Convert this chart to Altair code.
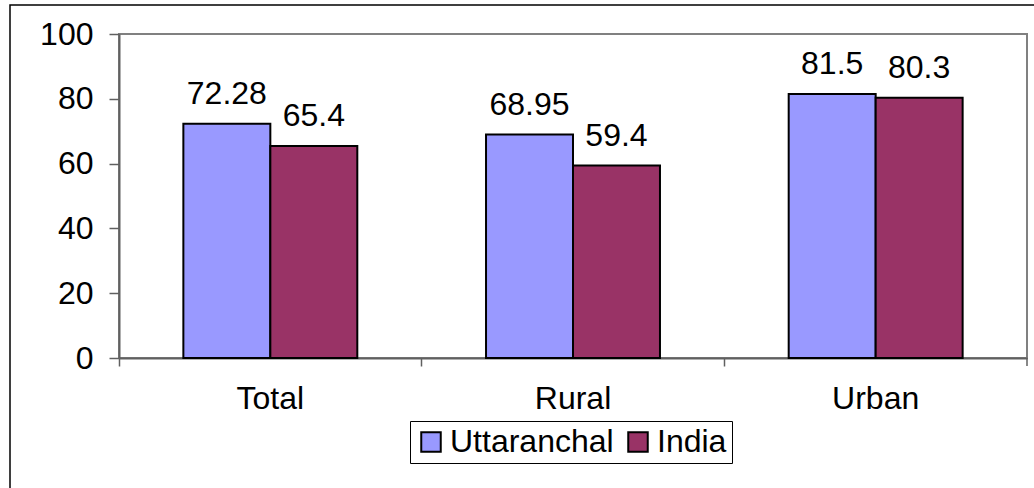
import altair as alt
import pandas as pd

categories = ["Total", "Rural", "Urban"]
series = ["Uttaranchal", "India"]
uttaranchal = [72.28, 68.95, 81.5]
india = [65.4, 59.4, 80.3]
y_ticks = [0, 20, 40, 60, 80, 100]

rows = []
for i, c in enumerate(categories):
    rows.append({"category": c, "series": "Uttaranchal", "value": uttaranchal[i], "label": f"{uttaranchal[i]:g}"})
    rows.append({"category": c, "series": "India", "value": india[i], "label": f"{india[i]:g}"})
df = pd.DataFrame(rows)

FONT = "Liberation Sans"
FS = 32

x_enc = alt.X("category:N", sort=categories,
              scale=alt.Scale(paddingInner=0, paddingOuter=0),
              axis=alt.Axis(title=None, bandPosition=0, labelAngle=0,
                            tickSize=8, labelPadding=17, domainColor="#606060",
                            tickColor="#606060", labelFontSize=FS, labelFont=FONT,
                            labelColor="black", domainWidth=2, tickWidth=1.5))
xoff_enc = alt.XOffset("series:N", sort=series, scale=alt.Scale(paddingOuter=0.74, paddingInner=0))
y_enc = alt.Y("value:Q", scale=alt.Scale(domain=[0, 100]),
              axis=alt.Axis(title=None, values=y_ticks, grid=False, tickSize=10,
                            labelPadding=16, domainColor="#606060", tickColor="#606060",
                            labelFontSize=FS, labelFont=FONT, labelColor="black",
                            domainWidth=2, tickWidth=1.5))
color_enc = alt.Color("series:N", sort=series,
                      scale=alt.Scale(domain=series, range=["#9999FF", "#993366"]),
                      legend=alt.Legend(title=None, orient="none", direction="horizontal",
                                        legendX=291, legendY=387,
                                        strokeColor="black", padding=5,
                                        symbolType="square", symbolSize=380,
                                        symbolStrokeColor="black", symbolStrokeWidth=2,
                                        labelFontSize=FS, labelFont=FONT, labelColor="black",
                                        labelLimit=400, columnPadding=8, labelOffset=3))

base = alt.Chart(df)
bars = base.mark_bar(stroke="black", strokeWidth=2).encode(
    x=x_enc, xOffset=xoff_enc, y=y_enc, color=color_enc)
labels = base.mark_text(font=FONT, fontSize=FS, dy=-20, baseline="alphabetic", color="black").encode(
    x=x_enc, xOffset=xoff_enc, y=y_enc, text="label:N")

one = alt.Chart(pd.DataFrame({"a": [0]}))
right_tick = one.mark_rule(color="#606060", strokeWidth=1.5).encode(
    x=alt.value(908), y=alt.value(324), y2=alt.value(332))
frame = one.mark_rect(fill=None, stroke="black", strokeWidth=1.5).encode(
    x=alt.value(-109), x2=alt.value(960), y=alt.value(-29), y2=alt.value(500))

chart = alt.layer(frame, bars, labels, right_tick).properties(
    width=908, height=324,
    autosize=alt.AutoSizeParams(type="none"),
    padding={"left": 119, "top": 34, "right": 7, "bottom": 130},
    background="white",
).configure_view(stroke="#808080", strokeWidth=2)

chart.save("out.html", embed_options={"renderer": "svg", "actions": False})
